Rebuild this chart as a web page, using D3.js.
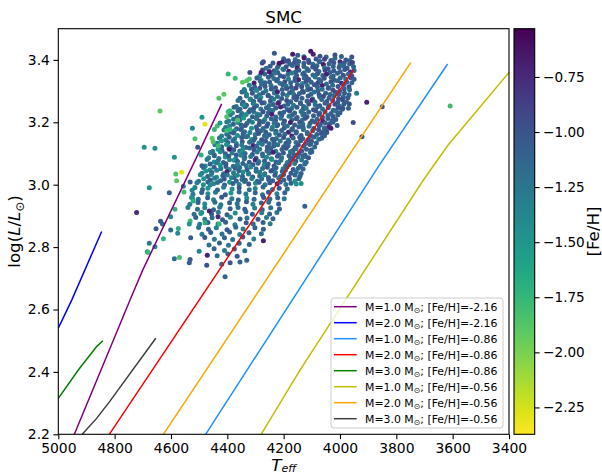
<!DOCTYPE html>
<html>
<head>
<meta charset="utf-8">
<script src="https://cdn.jsdelivr.net/npm/d3@7"></script>
<style>
  body { margin: 0; background: #fff; }
  text { font-family: "DejaVu Sans", sans-serif; }
</style>
</head>
<body>
<svg id="chart" width="602" height="475"></svg>
<script>
// evolutionary tracks, [Teff, logL]
const trackM1Z216 = [[4943, 2.2], [4745, 2.631], [4700, 2.727], [4497, 3.111], [4420, 3.259]];
const trackM2Z216 = [[5000, 2.54], [4952, 2.631], [4846, 2.85]];
const trackM1Z086 = [[4477, 2.2], [3858, 3.066], [3618, 3.387]];
const trackM2Z086 = [[4819, 2.2], [4168, 3.078], [3953, 3.367]];
const trackM3Z086 = [[5000, 2.315], [4929, 2.406], [4864, 2.481], [4842, 2.5]];
const trackM1Z056 = [[4280, 2.2], [4142, 2.406], [3704, 3.015], [3616, 3.127], [3400, 3.36]];
const trackM2Z056 = [[4627, 2.2], [3749, 3.391]];
const trackM3Z056 = [[4915, 2.2], [4864, 2.251], [4816, 2.307], [4654, 2.508]];

const trackMasses = ['1.0', '2.0', '1.0', '2.0', '3.0', '1.0', '2.0', '3.0'];
const trackFeH = ['-2.16', '-2.16', '-0.86', '-0.86', '-0.86', '-0.56', '-0.56', '-0.56'];
const trackColors = ['#800080', '#0000ff', '#1e90ff', '#ff0000', '#008000', '#bfbf00', '#ffa500', '#404040'];
const trackPoints = [trackM1Z216, trackM2Z216, trackM1Z086, trackM2Z086,
                     trackM3Z086, trackM1Z056, trackM2Z056, trackM3Z056];

const xTicks = [5000, 4800, 4600, 4400, 4200, 4000, 3800, 3600, 3400];
const yTicks = [2.2, 2.4, 2.6, 2.8, 3.0, 3.2, 3.4];
const cbTicks = [-0.75, -1.0, -1.25, -1.5, -1.75, -2.0, -2.25];
const fehRange = [-2.372, -0.531];

// stars of the main clump: [Teff, logL, [Fe/H]]
const clumpStars = [
  [4150,3.415,-1.05],[4128,3.41,-1.2],[4095,3.418,-0.7],[4071,3.412,-1.0],[4049,3.409,-1.1],[4018,3.416,-0.95],[3995,3.411,-1.08],
  [4200,3.404,-1.1],[4183,3.397,-0.95],[4159,3.401,-1.2],[4147,3.395,-1.05],[4127,3.406,-0.68],[4112,3.399,-1.1],[4085,3.403,-1.0],[4074,3.396,-1.15],[4055,3.402,-0.9],[4032,3.398,-1.05],[4018,3.405,-1.12],[4000,3.394,-0.75],[3979,3.4,-1.02],[3966,3.397,-1.1],
  [4238,3.39,-1.05],[4217,3.384,-1.3],[4204,3.393,-0.72],[4178,3.387,-1.1],[4162,3.391,-1.0],[4151,3.383,-1.15],[4128,3.389,-1.05],[4110,3.392,-0.95],[4096,3.386,-1.2],[4071,3.394,-1.08],[4059,3.385,-0.66],[4039,3.388,-1.1],[4022,3.391,-1.02],[4000,3.384,-1.15],[3985,3.39,-1.0],[3966,3.387,-1.1],[3956,3.392,-0.9],
  [4262,3.373,-1.2],[4248,3.38,-1.05],[4222,3.376,-1.1],[4203,3.371,-1.35],[4191,3.378,-1.0],[4169,3.382,-1.12],[4152,3.374,-0.7],[4128,3.379,-1.08],[4117,3.372,-1.15],[4097,3.377,-1.02],[4082,3.381,-1.1],[4055,3.375,-1.25],[4042,3.372,-0.98],[4024,3.379,-1.1],[4003,3.376,-1.05],[3987,3.381,-1.18],[3975,3.373,-1.0],[3952,3.378,-1.08],
  [4275,3.368,-0.95],[4250,3.362,-1.3],[4234,3.365,-1.05],[4221,3.36,-1.1],[4200,3.369,-1.2],[4182,3.364,-0.68],[4158,3.361,-1.1],[4146,3.367,-1.02],[4127,3.359,-1.25],[4112,3.366,-1.08],[4086,3.37,-1.0],[4075,3.363,-1.15],[4053,3.367,-0.92],[4036,3.36,-1.1],[4022,3.365,-1.05],[3999,3.362,-1.12],[3983,3.369,-1.0],[3963,3.361,-0.72],[3950,3.366,-1.1],
  [4285,3.348,-1.4],[4267,3.355,-1.1],[4244,3.351,-1.0],[4232,3.357,-1.22],[4212,3.349,-1.05],[4185,3.353,-1.15],[4171,3.358,-1.3],[4154,3.35,-1.02],[4132,3.355,-1.1],[4121,3.347,-0.95],[4096,3.352,-1.2],[4080,3.356,-1.05],[4061,3.35,-1.12],[4048,3.354,-0.7],[4024,3.348,-1.08],[4009,3.357,-1.1],[3988,3.351,-1.0],[3970,3.355,-1.15],[3958,3.349,-1.05],
  [4295,3.342,-1.1],[4280,3.335,-1.45],[4254,3.344,-1.05],[4235,3.34,-1.2],[4222,3.337,-1.1],[4200,3.346,-1.0],[4183,3.339,-1.3],[4159,3.343,-1.08],[4147,3.336,-0.72],[4127,3.342,-1.12],[4111,3.338,-1.05],[4088,3.345,-1.2],[4074,3.337,-1.1],[4056,3.341,-0.98],[4031,3.344,-1.15],[4020,3.335,-1.05],[3999,3.342,-1.1],[3980,3.339,-1.22],[3962,3.343,-1.0],[3950,3.338,-1.08],
  [4305,3.326,-0.68],[4283,3.332,-1.15],[4269,3.323,-1.3],[4250,3.329,-1.05],[4225,3.333,-1.1],[4213,3.325,-1.22],[4196,3.33,-0.98],[4175,3.327,-1.1],[4160,3.334,-1.05],[4133,3.324,-1.35],[4120,3.331,-1.02],[4102,3.328,-1.12],[4079,3.326,-0.94],[4068,3.332,-1.08],[4048,3.323,-1.18],[4032,3.33,-1.0],[4008,3.333,-1.1],[3994,3.325,-0.72],[3976,3.329,-1.05],[3958,3.327,-1.1],
  [4322,3.319,-1.35],[4303,3.313,-1.1],[4279,3.322,-1.2],[4266,3.315,-1.05],[4245,3.318,-1.15],[4229,3.311,-1.0],[4203,3.32,-1.1],[4191,3.316,-1.25],[4173,3.312,-1.05],[4151,3.321,-1.1],[4136,3.314,-0.98],[4116,3.317,-1.2],[4091,3.32,-1.04],[4080,3.313,-1.1],[4063,3.318,-0.7],[4040,3.311,-1.06],[4026,3.319,-1.15],[4007,3.315,-1.02],[3986,3.321,-1.1],[3968,3.314,-0.96],
  [4338,3.3,-1.3],[4314,3.306,-1.05],[4297,3.303,-1.12],[4285,3.309,-0.98],[4263,3.301,-1.25],[4244,3.307,-1.05],[4230,3.299,-1.4],[4205,3.305,-1.1],[4189,3.308,-1.02],[4169,3.302,-1.18],[4156,3.31,-0.92],[4133,3.3,-1.08],[4115,3.304,-1.14],[4104,3.307,-1.0],[4078,3.301,-1.1],[4063,3.306,-1.22],[4042,3.309,-1.06],[4025,3.303,-0.96],[4001,3.3,-1.1],[3985,3.307,-1.05],[3966,3.304,-1.15],
  [4348,3.297,-1.15],[4332,3.29,-1.35],[4311,3.293,-1.02],[4286,3.288,-1.2],[4273,3.295,-1.1],[4255,3.287,-1.05],[4233,3.294,-1.3],[4222,3.298,-0.7],[4203,3.291,-1.12],[4179,3.295,-1.05],[4164,3.289,-1.25],[4144,3.292,-1.1],[4130,3.296,-1.0],[4103,3.29,-1.15],[4091,3.297,-1.2],[4074,3.288,-0.98],[4051,3.293,-1.08],[4035,3.289,-1.14],[4016,3.296,-1.02],[4003,3.291,-1.1],[3984,3.294,-1.05],[3968,3.288,-1.12],
  [4355,3.277,-1.1],[4332,3.284,-1.3],[4318,3.275,-1.05],[4298,3.282,-1.15],[4281,3.28,-1.42],[4255,3.285,-1.0],[4243,3.278,-1.1],[4222,3.283,-1.18],[4207,3.276,-1.05],[4188,3.286,-1.3],[4164,3.279,-1.1],[4153,3.282,-0.96],[4135,3.277,-1.12],[4113,3.284,-1.04],[4097,3.275,-1.2],[4072,3.281,-1.08],[4059,3.283,-0.92],[4039,3.278,-1.1],[4022,3.285,-1.15],[4005,3.276,-1.02],[3988,3.281,-1.1],[3972,3.279,-1.05],
  [4362,3.27,-1.2],[4344,3.264,-1.05],[4319,3.273,-1.4],[4306,3.267,-1.1],[4285,3.271,-1.0],[4269,3.263,-1.18],[4247,3.269,-1.05],[4235,3.274,-1.3],[4216,3.265,-1.1],[4189,3.27,-0.96],[4175,3.266,-1.12],[4155,3.272,-1.04],[4140,3.263,-1.2],[4117,3.268,-1.08],[4100,3.271,-0.72],[4089,3.265,-1.1],[4065,3.273,-1.15],[4047,3.267,-1.02],[4026,3.27,-1.1],[4008,3.264,-1.05],[3991,3.272,-0.95],[3977,3.266,-1.1],
  [4368,3.251,-1.25],[4347,3.259,-1.1],[4332,3.255,-1.05],[4308,3.26,-1.3],[4296,3.253,-1.15],[4277,3.262,-1.02],[4251,3.254,-1.2],[4237,3.257,-1.1],[4220,3.261,-0.7],[4198,3.252,-1.08],[4185,3.258,-1.12],[4165,3.255,-1.3],[4140,3.26,-1.05],[4129,3.251,-1.1],[4111,3.259,-1.0],[4088,3.256,-1.2],[4072,3.253,-1.04],[4053,3.261,-1.12],[4039,3.254,-1.1],[4018,3.258,-0.98],[4002,3.252,-1.15],[3986,3.259,-1.05],
  [4376,3.248,-1.1],[4360,3.242,-1.35],[4337,3.25,-1.05],[4319,3.24,-1.2],[4306,3.245,-1.0],[4281,3.243,-1.3],[4261,3.247,-1.1],[4249,3.239,-1.15],[4228,3.246,-1.05],[4211,3.249,-0.72],[4187,3.241,-1.12],[4172,3.244,-1.22],[4153,3.248,-1.05],[4131,3.242,-1.1],[4120,3.245,-1.25],[4094,3.24,-1.0],[4080,3.25,-1.1],[4062,3.243,-1.18],[4042,3.247,-1.04],[4024,3.239,-1.12],[4007,3.246,-0.98],[3992,3.242,-1.1],
  [4382,3.23,-1.4],[4362,3.237,-1.1],[4348,3.228,-1.25],[4324,3.233,-1.05],[4307,3.235,-1.15],[4295,3.227,-1.32],[4273,3.234,-1.0],[4254,3.231,-1.1],[4239,3.238,-1.22],[4213,3.229,-1.06],[4200,3.232,-1.14],[4179,3.236,-0.95],[4161,3.23,-1.1],[4138,3.235,-1.2],[4127,3.227,-1.04],[4111,3.233,-1.12],[4086,3.237,-1.0],[4072,3.229,-1.15],[4053,3.234,-1.08],[4032,3.228,-1.1],[4015,3.236,-1.2],[4000,3.231,-1.05],
  [4390,3.223,-1.3],[4365,3.216,-1.05],[4352,3.221,-1.2],[4333,3.225,-1.42],[4311,3.218,-1.1],[4295,3.215,-1.0],[4284,3.224,-1.25],[4260,3.22,-1.08],[4242,3.226,-0.7],[4228,3.217,-1.15],[4207,3.222,-1.05],[4181,3.219,-1.3],[4169,3.223,-1.1],[4152,3.215,-1.0],[4132,3.224,-1.18],[4117,3.218,-1.06],[4094,3.221,-1.12],[4075,3.225,-1.02],[4062,3.216,-1.1],[4043,3.222,-1.15],[4025,3.219,-1.05],[4008,3.223,-1.1],
  [4395,3.204,-1.35],[4378,3.21,-1.2],[4356,3.207,-1.05],[4342,3.214,-1.5],[4322,3.205,-1.1],[4297,3.212,-1.2],[4285,3.203,-1.02],[4267,3.209,-1.38],[4244,3.211,-1.1],[4229,3.206,-1.05],[4210,3.213,-1.22],[4197,3.204,-0.96],[4171,3.208,-1.12],[4155,3.211,-1.06],[4134,3.207,-1.2],[4123,3.213,-1.0],[4099,3.205,-1.1],[4081,3.21,-1.15],[4061,3.203,-0.72],[4043,3.212,-1.08],[4028,3.206,-1.1],[4015,3.209,-1.05],
  [4402,3.201,-1.3],[4379,3.194,-1.1],[4363,3.199,-1.45],[4351,3.191,-1.05],[4330,3.197,-1.2],[4311,3.2,-1.32],[4287,3.193,-1.0],[4273,3.202,-1.15],[4256,3.195,-1.08],[4234,3.198,-1.25],[4221,3.192,-1.05],[4201,3.196,-1.12],[4176,3.199,-0.7],[4161,3.191,-1.1],[4143,3.2,-1.02],[4132,3.194,-1.18],[4106,3.197,-1.06],[4089,3.201,-1.1],[4070,3.193,-1.0],[4052,3.198,-1.12],[4037,3.195,-1.05],[4025,3.2,-1.1],
  [4406,3.183,-1.25],[4392,3.188,-1.4],[4367,3.179,-1.1],[4348,3.186,-1.2],[4336,3.19,-1.05],[4314,3.181,-1.5],[4297,3.185,-1.1],[4273,3.18,-1.2],[4260,3.187,-1.02],[4240,3.184,-1.38],[4224,3.189,-1.1],[4198,3.182,-1.05],[4187,3.188,-1.22],[4169,3.179,-0.96],[4146,3.186,-1.12],[4131,3.183,-1.06],[4110,3.187,-1.2],[4093,3.18,-1.0],[4074,3.189,-1.1],[4056,3.182,-1.15],[4040,3.185,-0.72],
  [4412,3.175,-1.3],[4391,3.168,-1.1],[4375,3.173,-1.45],[4352,3.177,-1.05],[4339,3.17,-1.2],[4320,3.167,-1.32],[4294,3.176,-1.0],[4282,3.172,-1.15],[4264,3.169,-1.08],[4242,3.178,-1.25],[4227,3.171,-1.05],[4207,3.174,-1.12],[4183,3.168,-0.7],[4172,3.175,-1.1],[4155,3.17,-1.02],[4130,3.177,-1.18],[4116,3.167,-1.06],[4097,3.173,-1.1],[4076,3.176,-1.0],[4060,3.17,-1.12],[4048,3.174,-1.05],
  [4420,3.156,-1.35],[4402,3.162,-1.2],[4378,3.166,-1.05],[4364,3.158,-1.45],[4344,3.163,-1.1],[4328,3.155,-1.2],[4301,3.161,-1.3],[4289,3.164,-1.0],[4268,3.157,-1.15],[4251,3.16,-1.08],[4228,3.165,-1.25],[4215,3.159,-1.05],[4196,3.162,-1.12],[4171,3.156,-0.7],[4156,3.166,-1.1],[4138,3.158,-1.02],[4116,3.163,-1.18],[4102,3.155,-1.06],[4082,3.161,-1.1],[4066,3.164,-1.0],[4055,3.157,-1.12],
  [4428,3.15,-1.25],[4406,3.143,-1.4],[4393,3.152,-1.1],[4374,3.147,-1.3],[4349,3.151,-1.05],[4334,3.154,-1.2],[4314,3.145,-1.5],[4302,3.149,-1.1],[4278,3.144,-1.02],[4261,3.153,-1.22],[4240,3.146,-1.08],[4226,3.148,-1.15],[4200,3.151,-1.0],[4184,3.143,-1.3],[4166,3.15,-1.1],[4143,3.152,-1.05],[4132,3.147,-1.12],[4113,3.144,-0.98],[4091,3.153,-1.1],[4075,3.146,-1.2],[4065,3.149,-1.05],
  [4436,3.133,-1.3],[4421,3.14,-1.5],[4398,3.135,-1.1],[4380,3.141,-1.2],[4368,3.132,-1.35],[4347,3.138,-1.05],[4321,3.136,-1.2],[4307,3.142,-1.1],[4288,3.134,-1.3],[4264,3.139,-1.05],[4251,3.131,-1.15],[4234,3.137,-1.1],[4212,3.14,-1.25],[4192,3.133,-1.05],[4181,3.138,-1.1],[4156,3.135,-1.2],[4140,3.141,-1.02],[4122,3.132,-1.1],[4101,3.139,-1.05],[4084,3.134,-1.1],
  [4444,3.128,-1.35],[4420,3.122,-1.1],[4403,3.129,-1.45],[4390,3.12,-1.2],[4368,3.125,-1.05],[4349,3.127,-1.3],[4334,3.119,-1.1],[4308,3.126,-0.72],[4296,3.123,-1.15],[4276,3.13,-1.25],[4258,3.121,-1.05],[4235,3.124,-1.1],[4221,3.128,-1.2],[4200,3.122,-1.02],[4184,3.125,-1.12],[4159,3.119,-1.08],[4148,3.127,-1.0],[4129,3.123,-1.1],[4107,3.129,-1.05],[4090,3.121,-1.15],
  [4452,3.107,-1.3],[4433,3.114,-1.5],[4419,3.11,-1.1],[4394,3.117,-1.35],[4377,3.112,-1.05],[4356,3.108,-1.2],[4344,3.115,-1.42],[4321,3.118,-1.1],[4305,3.111,-1.0],[4285,3.114,-1.25],[4259,3.109,-1.1],[4246,3.116,-1.05],[4228,3.107,-1.3],[4206,3.113,-1.12],[4191,3.117,-0.98],[4167,3.11,-1.1],[4156,3.115,-1.2],[4136,3.108,-1.05],[4119,3.114,-1.1],[4102,3.111,-1.05],
  [4460,3.103,-1.35],[4447,3.096,-1.2],[4425,3.106,-1.45],[4407,3.099,-1.1],[4383,3.102,-1.3],[4368,3.095,-1.05],[4348,3.104,-1.5],[4337,3.1,-1.15],[4311,3.097,-1.02],[4294,3.105,-1.3],[4275,3.098,-1.1],[4252,3.101,-1.2],[4238,3.104,-0.7],[4217,3.096,-1.12],[4201,3.102,-1.05],[4176,3.106,-1.25],[4164,3.097,-1.1],[4146,3.101,-1.0],[4124,3.095,-1.1],[4105,3.103,-1.15],
  [4466,3.086,-1.4],[4446,3.093,-1.1],[4430,3.084,-1.3],[4407,3.089,-1.45],[4395,3.091,-1.05],[4370,3.083,-1.2],[4352,3.094,-1.35],[4338,3.087,-1.1],[4317,3.09,-1.25],[4298,3.085,-1.05],[4274,3.092,-1.15],[4261,3.088,-1.4],[4244,3.083,-1.1],[4222,3.091,-1.02],[4207,3.086,-1.2],[4181,3.093,-1.1],[4170,3.084,-1.05],[4150,3.089,-1.15],[4132,3.092,-1.1],[4112,3.086,-1.0],
  [4472,3.081,-1.3],[4447,3.073,-1.45],[4433,3.077,-1.2],[4414,3.071,-1.1],[4392,3.08,-1.35],[4376,3.078,-1.5],[4364,3.075,-1.1],[4340,3.082,-1.2],[4322,3.072,-1.05],[4301,3.079,-0.72],[4288,3.074,-1.3],[4268,3.076,-1.1],[4242,3.081,-1.45],[4227,3.073,-1.05],[4210,3.078,-1.2],[4187,3.071,-1.3],[4176,3.08,-1.1],[4157,3.075,-1.0],[4136,3.079,-1.25],[4120,3.072,-1.1],
  [4478,3.06,-1.4],[4461,3.066,-1.1],[4438,3.07,-1.3],[4425,3.062,-1.5],[4405,3.067,-1.05],[4379,3.059,-1.2],[4364,3.065,-1.35],[4345,3.068,-1.1],[4333,3.061,-1.25],[4309,3.064,-1.05],[4291,3.069,-1.15],[4269,3.063,-1.4],[4255,3.066,-1.1],[4234,3.06,-1.02],[4218,3.07,-1.2],[4193,3.061,-1.1],[4180,3.065,-1.05],[4161,3.068,-1.3],[4141,3.059,-1.1],[4125,3.066,-1.15],
  [4484,3.054,-1.2],[4462,3.047,-1.45],[4447,3.056,-1.1],[4423,3.051,-1.3],[4405,3.058,-1.05],[4393,3.049,-1.4],[4372,3.053,-1.1],[4356,3.055,-1.2],[4330,3.048,-1.05],[4317,3.057,-1.35],[4298,3.05,-1.1],[4275,3.052,-1.2],[4258,3.056,-1.05],[4238,3.047,-1.15],[4227,3.054,-1.1],[4202,3.051,-1.3],[4188,3.057,-1.1],[4166,3.049,-1.05],[4148,3.053,-1.15],[4131,3.05,-1.1],
  [4490,3.037,-1.3],[4476,3.044,-1.5],[4455,3.039,-1.1],[4438,3.046,-1.35],[4413,3.035,-1.2],[4401,3.042,-0.72],[4378,3.038,-1.3],[4359,3.045,-1.1],[4344,3.041,-1.45],[4324,3.036,-1.05],[4298,3.043,-1.2],[4285,3.04,-1.3],[4267,3.035,-1.1],[4245,3.044,-1.0],[4229,3.039,-1.25],[4205,3.042,-1.1],[4194,3.046,-1.15],[4174,3.037,-1.05],[4155,3.041,-1.2],[4138,3.036,-1.1],
  [4496,3.032,-1.4],[4470,3.026,-1.15],[4457,3.033,-1.3],[4438,3.024,-1.5],[4416,3.029,-1.1],[4400,3.031,-1.25],[4376,3.023,-1.05],[4364,3.03,-1.4],[4346,3.027,-1.1],[4325,3.034,-1.3],[4310,3.025,-1.02],[4285,3.028,-1.2],[4268,3.032,-1.35],[4254,3.023,-1.1],[4231,3.03,-1.05],[4211,3.026,-1.2],[4200,3.033,-1.1],[4181,3.024,-1.0],[4160,3.031,-1.15],[4142,3.027,-1.1],
  [4502,3.011,-1.2],[4484,3.019,-1.5],[4460,3.015,-1.1],[4445,3.021,-1.3],[4424,3.013,-1.15],[4411,3.018,-1.05],[4385,3.022,-1.35],[4368,3.012,-1.1],[4348,3.017,-1.2],[4336,3.014,-1.05],[4313,3.02,-1.3],[4294,3.011,-1.1],[4278,3.019,-1.2],[4253,3.016,-1.05],[4239,3.013,-1.1],[4217,3.021,-1.25],[4199,3.015,-1.1],[4179,3.018,-1.05],[4160,3.012,-1.45],[4146,3.019,-1.1],
  [4508,3.006,-1.3],[4485,3.0,-1.45],[4469,3.009,-1.1],[4449,3.003,-1.35],[4435,3.007,-1.2],[4410,2.999,-1.05],[4392,3.008,-1.5],[4380,3.004,-1.1],[4358,3.001,-1.3],[4339,3.01,-1.15],[4324,3.002,-1.02],[4300,3.005,-1.4],[4287,3.008,-1.1],[4266,3.0,-1.25],[4249,3.006,-1.05],[4223,3.003,-0.72],[4212,3.009,-1.1],[4192,3.001,-1.2],[4174,3.005,-1.1],[4155,3.002,-1.45],
  [4515,2.991,-1.35],[4488,2.985,-1.2],[4469,2.989,-1.5],[4435,2.983,-1.1],[4413,2.992,-1.3],[4383,2.986,-1.45],[4358,2.99,-1.05],[4322,2.984,-1.2],[4301,2.988,-1.35],[4273,2.993,-1.1],[4240,2.985,-1.25],[4216,2.989,-1.05],[4187,2.986,-1.15],
  [4522,2.969,-1.3],[4491,2.975,-1.1],[4469,2.971,-1.4],[4442,2.976,-1.25],[4407,2.968,-1.05],[4387,2.973,-1.5],[4358,2.977,-1.15],[4334,2.97,-1.3],[4301,2.974,-1.1],[4275,2.968,-1.2],[4254,2.976,-1.05],[4224,2.971,-1.35],[4196,2.974,-1.1],
  [4527,2.959,-1.45],[4503,2.953,-1.2],[4470,2.958,-1.1],[4449,2.952,-1.35],[4420,2.96,-1.05],[4384,2.955,-1.3],[4361,2.951,-1.1],[4331,2.957,-1.45],[4305,2.953,-1.15],[4271,2.959,-1.05],[4249,2.954,-1.25],[4221,2.958,-1.1],[4198,2.955,-1.3],
  [4533,2.937,-1.3],[4504,2.943,-1.05],[4480,2.938,-1.4],[4444,2.944,-1.15],[4423,2.936,-1.3],[4392,2.942,-1.1],[4365,2.939,-1.2],[4332,2.945,-1.05],[4309,2.937,-1.35],[4279,2.941,-1.1],[4253,2.944,-1.2],[4218,2.938,-1.05],
  [4540,2.927,-1.3],[4506,2.921,-1.2],[4480,2.926,-1.35],[4449,2.92,-1.1],[4427,2.928,-1.3],[4390,2.923,-1.1],[4362,2.927,-1.2],[4338,2.921,-1.05],[4303,2.925,-1.35],[4276,2.92,-1.1],[4246,2.926,-1.2],[4215,2.922,-1.1],
  [4518,2.905,-1.2],[4491,2.911,-1.35],[4456,2.906,-1.05],[4432,2.912,-1.3],[4401,2.904,-1.1],[4372,2.909,-1.45],[4334,2.913,-1.15],[4311,2.905,-1.05],[4278,2.91,-1.3],[4250,2.906,-1.1],[4224,2.911,-1.2],
  [4512,2.895,-1.1],[4480,2.889,-1.3],[4454,2.894,-1.15],[4417,2.888,-1.05],[4389,2.896,-1.4],[4355,2.89,-1.1],[4330,2.893,-1.25],[4291,2.889,-1.05],[4261,2.895,-1.3],[4238,2.891,-1.1],
  [4498,2.873,-1.3],[4469,2.879,-1.05],[4433,2.874,-1.2],[4406,2.88,-1.1],[4373,2.872,-1.35],[4333,2.878,-1.05],[4308,2.874,-1.2],[4273,2.879,-1.1],[4248,2.875,-1.3],
  [4502,2.863,-1.2],[4467,2.857,-1.1],[4439,2.862,-1.35],[4401,2.856,-1.05],[4370,2.864,-1.15],[4344,2.858,-1.3],[4302,2.862,-1.1],[4272,2.857,-1.05],
  [4490,2.841,-1.3],[4459,2.847,-1.1],[4419,2.842,-1.2],[4392,2.848,-1.05],[4356,2.84,-1.35],[4323,2.846,-1.1],[4279,2.843,-1.2],
  [4480,2.831,-1.05],[4446,2.825,-1.3],[4410,2.83,-1.1],[4381,2.824,-1.2],[4345,2.832,-1.05],[4306,2.826,-1.35],[4272,2.82,-0.7],
  [4465,2.807,-1.2],[4428,2.813,-1.1],[4396,2.806,-1.3],[4358,2.812,-1.05],[4322,2.808,-1.15],
  [4447,2.795,-1.1],[4410,2.789,-1.3],[4375,2.794,-1.05],[4338,2.788,-1.2],
  [4436,2.772,-1.2],[4398,2.778,-1.1],[4365,2.771,-1.05],[4331,2.758,-1.1],
  [4408,2.705,-1.1],[4420,2.745,-1.15],[4390,2.75,-1.05],[4355,2.752,-1.1],
  [4233,3.421,-1.02],[4168,3.418,-0.68],[4104,3.428,-0.66],[3958,3.409,-1.0]
];

// sparse stars around the clump
const sparseStars = [
  [4639,3.236,-1.9],[4695,3.12,-1.5],[4657,3.117,-1.45],[4588,3.088,-1.5],[4524,3.181,-1.4],[4479,3.194,-2.3],[4490,3.216,-1.5],[4515,3.147,-1.85],[4505,3.12,-1.0],[4493,3.095,-1.7],
  [4397,3.355,-1.75],[4372,3.341,-1.8],[4346,3.328,-1.9],[4331,3.333,-1.9],[4322,3.339,-1.85],[4412,3.29,-1.9],[4430,3.277,-1.85],[4397,3.234,-1.8],[4391,3.237,-1.75],[4402,3.218,-1.85],
  [4363,3.207,-1.85],[4436,3.188,-1.8],[4446,3.177,-1.75],[4454,3.149,-1.9],[4450,3.138,-1.85],[4432,3.124,-1.8],[4402,3.173,-1.8],[4391,3.177,-1.75],[4426,3.198,-1.5],[4355,3.242,-1.1],
  [4341,3.255,-1.4],[4276,3.39,-0.95],[4393,3.114,-0.65],[4280,3.36,-0.7],[4320,3.36,-0.95],[4340,3.305,-1.3],
  [4722,2.911,-0.75],[4677,2.99,-1.45],[4562,3.04,-2.3],[4583,3.034,-1.85],[4580,3.013,-1.9],[4606,2.974,-1.1],[4554,2.977,-1.8],[4556,2.995,-1.4],[4532,3.009,-1.1],[4525,2.982,-1.4],
  [4523,2.956,-1.45],[4521,2.948,-1.7],[4586,2.921,-1.75],[4601,2.897,-1.4],[4637,2.883,-1.05],[4630,2.874,-1.1],[4653,2.859,-1.05],[4627,2.827,-1.75],[4677,2.812,-1.3],[4684,2.785,-1.5],
  [4574,2.86,-1.7],[4576,2.844,-1.4],[4601,2.855,-1.15],[4532,2.884,-1.8],[4535,2.874,-1.5],[4530,2.83,-1.05],[4570,2.767,-1.85],[4588,2.763,-1.2],[4532,2.76,-1.05],[4535,2.75,-1.05],
  [4500,2.787,-1.4],[4494,2.908,-1.5],[4479,2.878,-1.7],[4471,2.774,-0.7],[4473,2.742,-1.0],[4490,3.061,-1.1],[4464,2.916,-0.7],[4461,2.999,-1.4],[4429,2.874,-1.75],[4433,2.897,-0.75],
  [4681,2.783,-1.8],[4657,2.801,-1.4],[4125,2.931,-1.1],[4138,3.004,-1.45],
  [3905,3.264,-0.7],[3941,3.293,-1.3],[3953,3.199,-0.95],[4010,3.19,-1.05],[4032,3.181,-0.7],[4047,3.167,-1.0],[4104,3.131,-1.05],[4100,3.106,-1.1],[4124,3.09,-1.1],[3850,3.25,-1.05],
  [3922,3.154,-1.05],[3967,3.259,-1.0],[3970,3.245,-1.1],[3990,3.245,-1.0],[3609,3.252,-1.8],
  [4296,3.303,-1.4],[4266,3.327,-1.1],[4272,3.394,-1.0],[4251,3.362,-0.68],[4216,3.389,-0.65],[4190,3.396,-1.0]
];

const svg = d3.select('#chart');
const plot = { left: 58.3, right: 509, top: 28.7, bottom: 434.3 };
const cbar = { left: 514, right: 534.7 };

const x = d3.scaleLinear().domain([5000, 3400]).range([plot.left, plot.right]);
const y = d3.scaleLinear().domain([2.2, 3.5]).range([plot.bottom, plot.top]);
const color = v => d3.interpolateViridis((fehRange[1] - v) / (fehRange[1] - fehRange[0]));

svg.append('clipPath').attr('id', 'clip')
  .append('rect')
  .attr('x', plot.left).attr('y', plot.top)
  .attr('width', plot.right - plot.left).attr('height', plot.bottom - plot.top);

const inner = svg.append('g').attr('clip-path', 'url(#clip)');

inner.append('g')
  .selectAll('circle')
  .data(clumpStars.concat(sparseStars))
  .enter().append('circle')
    .attr('cx', d => x(d[0]))
    .attr('cy', d => y(d[1]))
    .attr('r', 2.5)
    .attr('fill', d => color(d[2]));

const line = d3.line().x(d => x(d[0])).y(d => y(d[1]));

inner.append('g')
  .selectAll('path')
  .data(trackPoints)
  .enter().append('path')
    .attr('d', line)
    .attr('fill', 'none')
    .attr('stroke', (d, i) => trackColors[i])
    .attr('stroke-width', 1.5);

// axes
const fontTick = '13.9px';
const xAxis = svg.append('g')
  .attr('transform', `translate(0,${plot.bottom})`)
  .call(d3.axisBottom(x).tickValues(xTicks).tickFormat(d3.format('d')).tickSize(4.9).tickPadding(3.5));
const yAxis = svg.append('g')
  .attr('transform', `translate(${plot.left},0)`)
  .call(d3.axisLeft(y).tickValues(yTicks).tickFormat(d3.format('.1f')).tickSize(4.9).tickPadding(3.5));

[xAxis, yAxis].forEach(g => {
  g.select('.domain').remove();
  g.selectAll('line').attr('stroke', '#000').attr('stroke-width', 1.1);
  g.selectAll('text').attr('font-size', fontTick).attr('fill', '#000')
    .attr('font-family', '"DejaVu Sans", sans-serif');
});

svg.append('rect')
  .attr('x', plot.left).attr('y', plot.top)
  .attr('width', plot.right - plot.left).attr('height', plot.bottom - plot.top)
  .attr('fill', 'none').attr('stroke', '#000').attr('stroke-width', 1.1);

// title and axis labels
svg.append('text')
  .attr('x', (plot.left + plot.right) / 2).attr('y', 22.5)
  .attr('text-anchor', 'middle').attr('font-size', '16.7px')
  .text('SMC');

const xLabel = svg.append('text')
  .attr('x', (plot.left + plot.right) / 2).attr('y', 471.3)
  .attr('text-anchor', 'middle').attr('font-size', '16.7px');
xLabel.append('tspan').attr('font-style', 'italic').text('T');
xLabel.append('tspan').attr('font-style', 'italic').attr('font-size', '11px').attr('dy', 1).text('eff');

const yLabel = svg.append('text')
  .attr('transform', `translate(20,${(plot.top + plot.bottom) / 2}) rotate(-90)`)
  .attr('text-anchor', 'middle').attr('font-size', '16.7px');
yLabel.append('tspan').text('log(');
yLabel.append('tspan').attr('font-style', 'italic').text('L');
yLabel.append('tspan').text('/');
yLabel.append('tspan').attr('font-style', 'italic').text('L');
yLabel.append('tspan').attr('font-size', '11.7px').attr('dy', 3.5).text('⊙');
yLabel.append('tspan').attr('dy', -3.5).text(')');

// legend
const legend = svg.append('g');
legend.append('rect')
  .attr('x', 331).attr('y', 298).attr('width', 172).attr('height', 130)
  .attr('rx', 3).attr('fill', '#fff').attr('fill-opacity', 0.8)
  .attr('stroke', '#cccccc').attr('stroke-width', 1);

const entries = legend.selectAll('g.entry')
  .data(trackMasses)
  .enter().append('g')
    .attr('class', 'entry')
    .attr('transform', (d, i) => `translate(334,${306.7 + i * 16})`);
entries.append('line')
  .attr('x1', 0).attr('x2', 22.7)
  .attr('stroke', (d, i) => trackColors[i]).attr('stroke-width', 1.5);
const entryText = entries.append('text')
  .attr('x', 31).attr('y', 4).attr('font-size', '10.9px');
entryText.append('tspan').text(d => `M=${d} M`);
entryText.append('tspan').attr('font-size', '7.8px').attr('dy', 2.5).text('⊙');
entryText.append('tspan').attr('dy', -2.5).text((d, i) => `; [Fe/H]=${trackFeH[i]}`);

// colorbar
const defs = svg.append('defs');
const grad = defs.append('linearGradient').attr('id', 'cbgrad')
  .attr('x1', 0).attr('y1', 1).attr('x2', 0).attr('y2', 0);
d3.range(0, 1.0001, 0.05).forEach(t => {
  grad.append('stop').attr('offset', t)
    .attr('stop-color', d3.interpolateViridis(1 - t));
});
svg.append('rect')
  .attr('x', cbar.left).attr('y', plot.top)
  .attr('width', cbar.right - cbar.left).attr('height', plot.bottom - plot.top)
  .attr('fill', 'url(#cbgrad)').attr('stroke', '#000').attr('stroke-width', 1.1);

const cb = d3.scaleLinear().domain(fehRange).range([plot.bottom, plot.top]);
const cbAxis = svg.append('g')
  .attr('transform', `translate(${cbar.right},0)`)
  .call(d3.axisRight(cb).tickValues(cbTicks).tickFormat(d3.format('.2f')).tickSize(4.9).tickPadding(3.5));
cbAxis.select('.domain').remove();
cbAxis.selectAll('line').attr('stroke', '#000').attr('stroke-width', 1.1);
cbAxis.selectAll('text').attr('font-size', '13.6px').attr('fill', '#000')
  .attr('font-family', '"DejaVu Sans", sans-serif');

svg.append('text')
  .attr('transform', `translate(599,${(plot.top + plot.bottom) / 2}) rotate(-90)`)
  .attr('text-anchor', 'middle').attr('font-size', '16.7px')
  .text('[Fe/H]');
</script>
</body>
</html>
